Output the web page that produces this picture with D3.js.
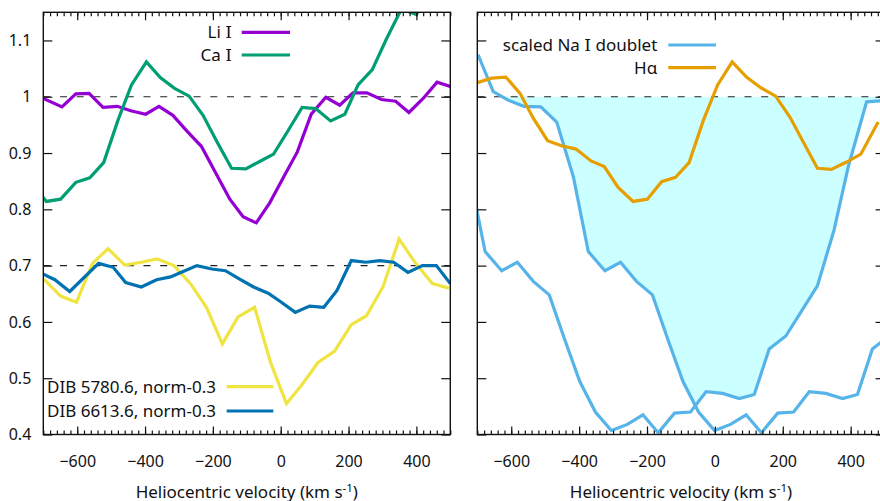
<!DOCTYPE html>
<html>
<head>
<meta charset="utf-8">
<script src="https://cdn.jsdelivr.net/npm/d3@7/dist/d3.min.js"></script>
<style>
  html, body { margin: 0; padding: 0; background: #fff; }
  svg { display: block; }
  text { font-family: "Noto Sans", "DejaVu Sans", sans-serif; fill: #111; }
  tspan.numeral { font-family: "DejaVu Serif", "Liberation Serif", serif; }
</style>
</head>
<body>
<svg id="chart" width="880" height="501"></svg>
<script>
// ---- Left panel: Li I, Ca I and two diffuse interstellar bands (offset by -0.3)
const liVel  = [-704,-645,-604,-565,-524,-482,-442,-398,-359,-318,-275,-234,-192,-150,-111,-72,-32,9,49,90,133,174,213,254,297,339,378,420,461,502];
const liFlux = [0.998,0.982,1.005,1.006,0.981,0.983,0.975,0.969,0.983,0.967,0.938,0.912,0.865,0.818,0.787,0.776,0.812,0.858,0.902,0.969,0.999,0.985,1.007,1.007,0.995,0.992,0.972,0.997,1.026,1.018];

const caVel  = [-733,-691,-649,-604,-563,-522,-480,-440,-396,-355,-313,-270,-229,-188,-145,-103,-62,-21,22,63,103,147,189,228,270,312,356,400,441,483];
const caFlux = [0.846,0.814,0.818,0.848,0.856,0.883,0.958,1.021,1.062,1.034,1.015,1.001,0.967,0.920,0.873,0.872,0.885,0.898,0.940,0.981,0.979,0.957,0.969,1.021,1.048,1.103,1.156,1.146,1.19,1.2];

const dib5780Vel  = [-698,-649,-602,-555,-509,-460,-411,-365,-315,-266,-219,-172,-126,-77,-30,17,61,110,159,208,253,302,349,398,447,496];
const dib5780Flux = [0.676,0.646,0.635,0.704,0.730,0.701,0.706,0.712,0.700,0.668,0.626,0.561,0.609,0.626,0.528,0.455,0.487,0.528,0.548,0.595,0.611,0.663,0.747,0.704,0.668,0.660];

const dib6613Vel  = [-708,-666,-622,-537,-494,-457,-411,-366,-325,-286,-247,-203,-163,-121,-80,-37,2,43,85,127,166,208,251,292,333,375,418,459,500];
const dib6613Flux = [0.687,0.675,0.654,0.704,0.697,0.670,0.662,0.675,0.680,0.690,0.700,0.694,0.691,0.676,0.662,0.651,0.635,0.617,0.628,0.626,0.656,0.709,0.706,0.709,0.706,0.688,0.700,0.700,0.668];

// ---- Right panel: scaled Na I doublet (one profile, drawn for both D lines) and H-alpha
const naVel  = [-1002,-957,-913,-867,-817,-770,-721,-677,-628,-582,-535,-488,-442,-398,-352,-305,-258,-212,-167,-119,-72,-26,23,72,116,160,209,258,302,351,393,447,495];
const naFlux = [1.075,1.009,0.994,0.983,0.982,0.955,0.858,0.725,0.691,0.706,0.672,0.648,0.568,0.494,0.440,0.407,0.418,0.435,0.403,0.438,0.440,0.476,0.473,0.464,0.471,0.552,0.575,0.622,0.664,0.763,0.876,0.991,0.993];
const naDoubletShift = 304;   // velocity separation of the two D lines, km/s

const haVel  = [-700,-658,-616,-574,-535,-493,-452,-409,-365,-326,-285,-241,-199,-157,-116,-76,-34,8,51,93,135,179,221,262,302,343,388,430,481];
const haFlux = [1.025,1.033,1.035,1.006,0.962,0.922,0.913,0.907,0.886,0.876,0.839,0.814,0.818,0.849,0.857,0.883,0.958,1.021,1.062,1.035,1.016,1.001,0.964,0.918,0.873,0.871,0.884,0.898,0.955];

// ---- Axes
const xDomain = [-700, 500];
const yDomain = [0.4, 1.15];
const xMajor = [-600, -400, -200, 0, 200, 400];
const xMinor = d3.range(-700, 501, 20);
const yMajor = d3.range(4, 12).map(d => d / 10);
const xTitle = "Heliocentric velocity (km s";

const colors = {
  li: "#9400d3", ca: "#009e73", dib5780: "#f0e442", dib6613: "#0072b2",
  na: "#56b4e9", ha: "#e69f00", fill: "#ccffff"
};

const svg = d3.select("#chart");
const plotTop = 12.3, plotBottom = 434.5;
const y = d3.scaleLinear(yDomain, [plotBottom, plotTop]);
const xL = d3.scaleLinear(xDomain, [43.3, 450.3]);
const xR = d3.scaleLinear(xDomain, [477.3, 884.6]);

const zip = (v, f, shift = 0) => v.map((d, i) => ({ v: d + shift, f: f[i] }));

function panel(x, id) {
  const g = svg.append("g");
  const [x0, x1] = x.range();
  svg.append("clipPath").attr("id", id)
    .append("rect").attr("x", x0).attr("y", plotTop).attr("width", x1 - x0).attr("height", plotBottom - plotTop);
  const plot = g.append("g").attr("clip-path", `url(#${id})`);
  return { g, plot, x, x0, x1 };
}

function drawLine(p, data, color) {
  const line = d3.line().x(d => p.x(d.v)).y(d => y(d.f));
  p.plot.append("path").datum(data)
    .attr("fill", "none").attr("stroke", color).attr("stroke-width", 3.2)
    .attr("stroke-linejoin", "miter").attr("d", line);
}

function dashed(p, value) {
  p.plot.append("line")
    .attr("x1", p.x0).attr("x2", p.x1).attr("y1", y(value)).attr("y2", y(value))
    .attr("stroke", "#222").attr("stroke-width", 1.2).attr("stroke-dasharray", "7,9.7");
}

function frame(p, withLabels) {
  const g = p.g;
  const H = plotBottom, T = plotTop;
  g.append("g").attr("transform", `translate(0,${H})`)
    .call(d3.axisBottom(p.x).tickValues(xMajor).tickSize(-8).tickSizeOuter(0).tickPadding(21));
  g.append("g").attr("transform", `translate(0,${H})`)
    .call(d3.axisBottom(p.x).tickValues(xMinor).tickSize(-4).tickSizeOuter(0).tickFormat(""));
  g.append("g").attr("transform", `translate(0,${T})`)
    .call(d3.axisTop(p.x).tickValues(xMajor).tickSize(-8).tickSizeOuter(0).tickFormat(""));
  g.append("g").attr("transform", `translate(0,${T})`)
    .call(d3.axisTop(p.x).tickValues(xMinor).tickSize(-4).tickSizeOuter(0).tickFormat(""));
  g.append("g").attr("transform", `translate(${p.x0},0)`)
    .call(d3.axisLeft(y).tickValues(yMajor).tickSize(-9).tickSizeOuter(0).tickPadding(12)
      .tickFormat(d => withLabels ? String(+d.toFixed(1)) : ""));
  g.append("g").attr("transform", `translate(${p.x1},0)`)
    .call(d3.axisRight(y).tickValues(yMajor).tickSize(-9).tickSizeOuter(0).tickFormat(""));

  g.selectAll(".domain").remove();
  g.selectAll(".tick line").attr("stroke", "#111").attr("stroke-width", 1.2);
  g.selectAll(".tick text").attr("font-size", 16).attr("fill", "#111")
    .attr("font-family", "'Noto Sans', 'DejaVu Sans', sans-serif");

  g.append("rect").attr("x", p.x0).attr("y", T).attr("width", p.x1 - p.x0).attr("height", H - T)
    .attr("fill", "none").attr("stroke", "#111").attr("stroke-width", 1.4);

  const t = g.append("text").attr("x", (p.x0 + p.x1) / 2).attr("y", 498)
    .attr("text-anchor", "middle").attr("font-size", 17).text(xTitle);
  t.append("tspan").attr("dy", -6).attr("font-size", 11.5).text("-1");
  t.append("tspan").attr("dy", 6).text(")");
}

// label parts: strings, with the ionisation numeral set in a serif face
function legendItem(g, parts, xText, yMid, lineX0, lineX1, color) {
  const t = g.append("text").attr("x", xText).attr("y", yMid).attr("dy", "0.35em")
    .attr("text-anchor", "end").attr("font-size", 17);
  parts.forEach(s => {
    const sp = t.append("tspan").text(s);
    if (s === "I") sp.attr("class", "numeral");
  });
  g.append("line").attr("x1", lineX0).attr("x2", lineX1).attr("y1", yMid).attr("y2", yMid)
    .attr("stroke", color).attr("stroke-width", 3.2);
}

// ---------- left panel
const L = panel(xL, "clipL");
dashed(L, 1.0);
dashed(L, 0.7);
drawLine(L, zip(dib5780Vel, dib5780Flux), colors.dib5780);
drawLine(L, zip(dib6613Vel, dib6613Flux), colors.dib6613);
drawLine(L, zip(liVel, liFlux), colors.li);
drawLine(L, zip(caVel, caFlux), colors.ca);
frame(L, true);
legendItem(L.g, ["Li ", "I"], 232, 32.3, 241.7, 290, colors.li);
legendItem(L.g, ["Ca ", "I"], 232, 55, 241.7, 290, colors.ca);
legendItem(L.g, ["DIB 5780.6, norm-0.3"], 216, 386.7, 226.7, 273.3, colors.dib5780);
legendItem(L.g, ["DIB 6613.6, norm-0.3"], 216, 411, 226.7, 273.3, colors.dib6613);

// ---------- right panel
const R = panel(xR, "clipR");
const naA = zip(naVel, naFlux);                    // first D line
const naB = zip(naVel, naFlux, naDoubletShift);    // second D line

// absorption region: between the continuum (1) and the upper envelope of the two D-line profiles
function interp(data, v) {
  for (let i = 0; i < data.length - 1; i++) {
    const a = data[i], b = data[i + 1];
    if (v >= a.v && v <= b.v) return a.f + (b.f - a.f) * (v - a.v) / (b.v - a.v);
  }
  return NaN;
}
const upper = (a, b) => isNaN(a) ? b : isNaN(b) ? a : Math.max(a, b);
let grid = [...naA, ...naB].map(d => d.v).filter(v => v >= xDomain[0] && v <= xDomain[1]);
grid.push(xDomain[0], xDomain[1]);
grid = Array.from(new Set(grid)).sort((a, b) => a - b);
const env = [];
for (let i = 0; i < grid.length; i++) {
  const v = grid[i];
  const da = interp(naA, v), db = interp(naB, v);
  if (i > 0) {
    const pv = grid[i - 1];
    const pa = interp(naA, pv) - interp(naB, pv), ca = da - db;
    if (pa * ca < 0) {                      // the two profiles cross inside this interval
      const vc = pv + (v - pv) * pa / (pa - ca);
      env.push({ v: vc, f: interp(naA, vc) });
    }
  }
  env.push({ v, f: upper(da, db) });
}
R.plot.append("path").datum(env.filter(d => isFinite(d.f)))
  .attr("fill", colors.fill).attr("stroke", "none")
  .attr("d", d3.area().x(d => R.x(d.v)).y0(y(1)).y1(d => y(Math.min(1, d.f))));

dashed(R, 1.0);
drawLine(R, naA, colors.na);
drawLine(R, naB, colors.na);
drawLine(R, zip(haVel, haFlux), colors.ha);
frame(R, false);
legendItem(R.g, ["scaled Na ", "I", " doublet"], 657.3, 45, 668.3, 716, colors.na);
legendItem(R.g, ["Hα"], 657.3, 67.7, 668.3, 716, colors.ha);
</script>
</body>
</html>
